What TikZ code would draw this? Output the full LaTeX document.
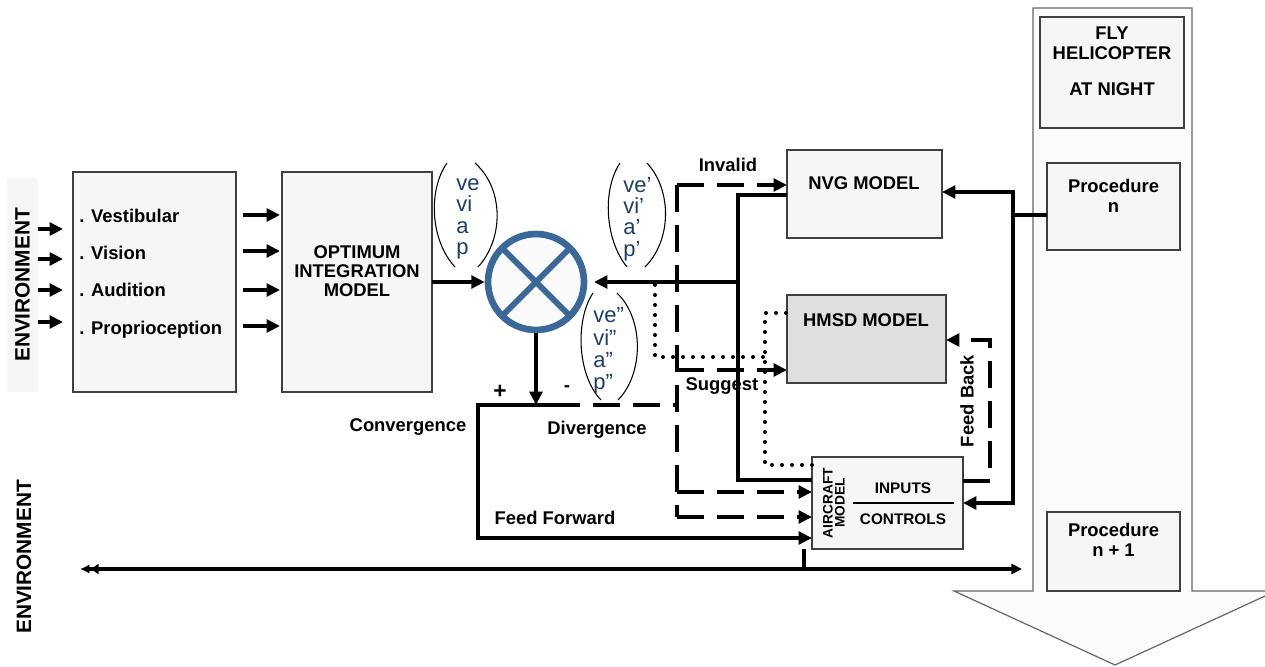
\documentclass[tikz,border=0pt]{standalone}
\usepackage{fontspec}
\setmainfont{Liberation Sans}
\usetikzlibrary{arrows.meta}
\definecolor{cblue}{HTML}{3A6898}
\definecolor{navy}{HTML}{1B3C6E}
\definecolor{edge}{HTML}{404040}
\definecolor{boxfill}{HTML}{F6F6F6}
\definecolor{hmsdfill}{HTML}{DFDFDF}
\definecolor{arrowfill}{HTML}{FBFBFB}
\definecolor{envfill}{HTML}{F6F6F6}
\tikzset{
 sz/.style 2 args={minimum width={#1*0.75pt},minimum height={#2*0.75pt}},
 box/.style={draw=edge,fill=boxfill,line width=0.9pt,inner sep=0pt,outer sep=0pt},
 lbl/.style={font=\fontsize{13.8}{15}\selectfont\bfseries,inner sep=0pt,text=black},
 conn/.style={line width=2.5pt},
 tip/.style={-{Triangle[length=10pt,width=9.5pt]}},
 tipboth/.style={{Triangle[length=10pt,width=9.5pt]}-{Triangle[length=10pt,width=9.5pt]}},
 dsh/.style={conn,dash pattern=on 20pt off 10pt},
 dts/.style={line width=3pt,line cap=round,dash pattern=on 0pt off 7.5pt},
 lens/.style={line width=0.8pt},
 lenstxt/.style={font=\fontsize{16.5}{16}\selectfont,text=navy,align=left,inner sep=0pt},
}
\begin{document}
\begin{tikzpicture}[x=0.75pt,y=-0.75pt]
\useasboundingbox (0,0) rectangle (1265,667);

% big downward arrow
\draw[draw=edge!80,fill=arrowfill,line width=0.9pt] (1033,8) -- (1192,8) -- (1192,591) -- (1276,591) -- (1115,665) -- (954,591) -- (1033,591) -- cycle;

% right column boxes
\node[box,sz={144}{111}] (fly) at (1112,72.5) {};
\node[lbl,align=center] (flyt) at (1112,61) {FLY\\HELICOPTER\\[12pt]AT NIGHT};
\node[box,sz={133}{87}] (pn) at (1113.5,206.5) {};
\node[lbl,align=center] (pnt) at (1113.5,196) {Procedure\\n};
\node[box,sz={133}{79}] (pn1) at (1113.5,551.5) {};
\node[lbl,align=center] (pn1t) at (1113.5,540) {Procedure\\n + 1};

% environment labels
\node[fill=envfill,rotate=90,sz={214}{31},inner sep=0pt,font=\fontsize{15.6}{16}\selectfont\bfseries] (env1) at (22.5,285) {ENVIRONMENT};
\node[rotate=90,inner sep=0pt,font=\fontsize{15.6}{16}\selectfont\bfseries] (env2) at (24,557) {ENVIRONMENT};

% senses box
\node[box,sz={163}{220}] (senses) at (154.5,282) {};
\node[lbl,anchor=base west] (s1) at (79,222.6) {. Vestibular};
\node[lbl,anchor=base west] (s2) at (79,259.6) {. Vision};
\node[lbl,anchor=base west] (s3) at (79,296.6) {. Audition};
\node[lbl,anchor=base west] (s4) at (79,334.6) {. Proprioception};

% optimum integration model
\node[box,sz={150}{220}] (oim) at (357,282) {};
\node[lbl,align=center,font=\fontsize{13.8}{14.25}\selectfont\bfseries] (oimt) at (357,271) {OPTIMUM\\INTEGRATION\\MODEL};

% comparator
\node[circle,draw=cblue,fill=white!98!black,line width=5pt,minimum size=72pt,inner sep=0pt] (circ) at (536,282) {};
\draw[cblue,line width=4.5pt] (circ.center) ++(-34,-34) -- ++(68,68);
\draw[cblue,line width=4.5pt] (circ.center) ++(34,-34) -- ++(-68,68);

% models
\node[box,sz={155}{88}] (nvg) at (864.5,194) {};
\node[lbl] (nvgt) at (864,183) {NVG MODEL};
\node[box,fill=hmsdfill,sz={159}{88}] (hmsd) at (866.5,339) {};
\node[lbl] (hmsdt) at (866,320) {HMSD MODEL};
\node[box,sz={151}{92}] (ac) at (887.5,503) {};
\node[rotate=90,align=center,font=\fontsize{10.3}{9}\selectfont\bfseries,inner sep=0pt] (act) at (834,503) {AIRCRAFT\\MODEL};
\node[font=\fontsize{11.5}{12}\selectfont\bfseries,inner sep=0pt] (inp) at (903,488) {INPUTS};
\node[font=\fontsize{11.5}{12}\selectfont\bfseries,inner sep=0pt] (ctl) at (903,519) {CONTROLS};
\coordinate (dv1) at (853,503);
\coordinate (dv2) at (954,503);
\draw[line width=1.2pt] (dv1) -- (dv2);

% input arrows
\foreach \y [count=\i] in {229,259,290,322} {
  \coordinate (in\i) at (38,\y);
  \draw[conn,tip,shorten >=7.5pt] (in\i) -- (in\i -| senses.west);
}
\foreach \y in {215,251,290,326} {
  \draw[conn,tip,shorten <=5pt,shorten >=1.5pt] (senses.east |- 0,\y) -- (oim.west |- 0,\y);
}

% main flow
\draw[conn,tip] (oim.east) -- (circ.west);
\coordinate (j1) at (738,282);
\coordinate (j2) at (738,195);
\coordinate (j3) at (738,480);
\draw[conn] (ac.west |- j3) -- (j3) -- (j2) -- (j2 -| nvg.west);
\draw[conn,tip,shorten >=5pt] (j1) -- (circ.east);
\coordinate (cj) at (536,405);
\draw[conn,tip] (circ.south) -- (cj);

% convergence / feed forward
\coordinate (cv) at (478,405);
\coordinate (sd) at (553,405);
\coordinate (ffc) at (478,538);
\draw[conn,tip] (sd) -- (cv) -- (ffc) -- (ffc -| ac.west);

% dashed paths
\coordinate (dt) at (677,185);
\coordinate (db) at (677,517);
\coordinate (dm) at (677,405);
\coordinate (ds) at (677,370);
\coordinate (da) at (677,492);
\draw[dsh] (sd) -- (dm);
\draw[dsh] (dt) -- (db);
\draw[dsh,tip] (dt) -- (dt -| nvg.west);
\draw[dsh,tip] (ds) -- (ds -| hmsd.west);
\draw[dsh,tip] (da) -- (da -| ac.west);
\draw[dsh,tip] (db) -- (db -| ac.west);

% dotted paths
\coordinate (p1) at (655,285);
\coordinate (p2) at (655,357);
\coordinate (p3) at (765,357);
\coordinate (q1) at (765,465);
\coordinate (q2) at (765,313);
\draw[dts] (p1) -- (p2) -- (p3);
\draw[dts] (q1 -| ac.west) -- (q1) -- (q2) -- (q2 -| hmsd.west);

% feed back
\coordinate (fb1) at (990,481);
\coordinate (fb2) at (990,340);
\draw[dsh,tip] (fb1 -| ac.east) -- (fb1) -- (fb2) -- (fb2 -| hmsd.east);

% procedure n links
\coordinate (pv1) at (1013,192);
\coordinate (pv2) at (1013,503);
\coordinate (pv3) at (1013,215);
\draw[conn] (pv3 -| pn.west) -- (pv3);
\draw[conn,tipboth] (pv1 -| nvg.east) -- (pv1) -- (pv2) -- (pv2 -| ac.east);

% bottom environment line
\coordinate (el) at (80,569);
\coordinate (er) at (1022,569);
\coordinate (es) at (804,569);
\draw[conn,{Latex[length=7pt,width=7pt]Latex[length=7pt,width=8.5pt]}-{Triangle[length=8pt,width=7.5pt]}] (el) -- (er);
\draw[conn] (ac.south -| es) -- (es);

% lenses
\draw[lens] (447,163) .. controls (428,190) and (430,240) .. (455,267);
\draw[lens] (475,163) .. controls (505,190) and (503,240) .. (478,267);
\node[lenstxt,anchor=west] (l1) at (456,219) {ve\\vi\\a\\p};
\draw[lens] (620,163) .. controls (602,190) and (605,240) .. (627,267);
\draw[lens] (647,163) .. controls (672,190) and (672,240) .. (645,267);
\node[lenstxt,anchor=west] (l2) at (623,219) {ve’\\vi’\\a’\\p’};
\draw[lens] (593,293) .. controls (575,320) and (577,375) .. (601,400);
\draw[lens] (617,293) .. controls (645,320) and (643,375) .. (618,400);
\node[lenstxt,anchor=west,font=\fontsize{16.5}{16.7}\selectfont] (l3) at (593,351) {ve”\\vi”\\a”\\p”};

% labels
\node[lbl] (inv) at (728,165) {Invalid};
\node[lbl] (sug) at (722,386) {Suggest};
\node[lbl] (conv) at (408,427) {Convergence};
\node[lbl] (div) at (597,430) {Divergence};
\node[lbl] (ffl) at (555,518) {Feed Forward};
\node[lbl,font=\fontsize{17}{17}\selectfont\bfseries] (plus) at (500,392) {+};
\node[lbl] (minus) at (567,389) {-};
\node[lbl,rotate=90] (fbl) at (967,401) {Feed Back};
\end{tikzpicture}
\end{document}
